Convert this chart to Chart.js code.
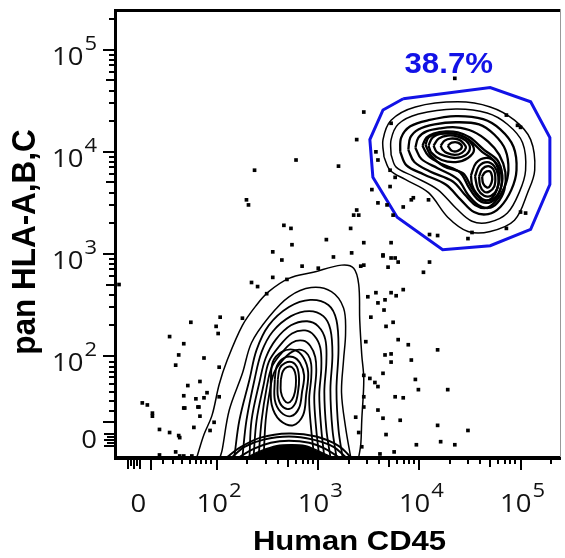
<!DOCTYPE html>
<html>
<head>
  <title>pan HLA-A,B,C vs Human CD45</title>
  <script src="https://cdn.jsdelivr.net/npm/chart.js"></script>
  <style>
    body { margin: 0; background: #fff; }
  </style>
</head>
<body>
  <canvas id="myChart" width="565" height="558"></canvas>

  <script>
    // All values are in display decades of the biexponential axis (2 = 10^2, 3 = 10^3 ...)
    const xLabelValues = [1.22, 2, 3, 4, 5];
    const yLabelValues = [1.25, 2, 3, 4, 5];
    const labelBases = ['0', '10', '10', '10', '10'];
    const labelExponents = ['', '2', '3', '4', '5'];

    const majorTicks = [1.35, 2, 3, 4, 5];
    const xZeroTicks = [1.12, 1.15, 1.18, 1.21, 1.24];
    const yZeroTicks = [1.12, 1.15, 1.18, 1.21, 1.24];
    const lowMinorTicks = [1.46, 1.56, 1.65, 1.73, 1.79, 1.84, 1.89, 1.94];
    const logMinorTicks = [2.30, 2.48, 2.60, 2.78, 2.85, 2.90, 2.95,
                           3.30, 3.48, 3.60, 3.78, 3.85, 3.90, 3.95,
                           4.30, 4.48, 4.60, 4.78, 4.85, 4.90, 4.95, 5.30];
    const midTicks = [2.70, 3.70, 4.70];

    const gatePercent = '38.7%';

    // lower population: contours open at the axis
    const lowerRings = [
      [1.80,1.01, 1.87,1.23, 1.95,1.42, 2.02,1.72, 2.10,1.96, 2.25,2.30, 2.39,2.50, 2.51,2.63, 2.71,2.76, 2.95,2.82, 3.23,2.89, 3.35,2.86, 3.40,2.70, 3.41,2.35, 3.43,2.01, 3.45,1.77, 3.43,1.37, 3.42,1.13, 3.40,1.01],
      [2.03,1.01, 2.05,1.08, 2.12,1.47, 2.25,1.83, 2.34,2.13, 2.51,2.38, 2.71,2.58, 2.93,2.67, 3.13,2.63, 3.25,2.47, 3.27,2.23, 3.25,1.96, 3.23,1.64, 3.27,1.30, 3.32,1.01],
      [2.17,1.01, 2.22,1.37, 2.32,1.77, 2.39,2.06, 2.51,2.30, 2.71,2.48, 2.92,2.55, 3.10,2.50, 3.18,2.35, 3.20,2.06, 3.18,1.67, 3.20,1.28, 3.24,1.01],
      [2.25,1.01, 2.29,1.37, 2.37,1.77, 2.44,2.04, 2.55,2.24, 2.73,2.39, 2.91,2.44, 3.05,2.39, 3.12,2.26, 3.14,2.01, 3.12,1.67, 3.14,1.28, 3.18,1.01],
      [2.32,1.01, 2.34,1.37, 2.42,1.75, 2.48,1.98, 2.58,2.16, 2.73,2.30, 2.89,2.34, 3.00,2.29, 3.07,2.16, 3.08,1.94, 3.06,1.65, 3.08,1.28, 3.12,1.01],
      [2.36,1.01, 2.39,1.37, 2.46,1.72, 2.51,1.94, 2.61,2.09, 2.74,2.22, 2.87,2.25, 2.96,2.20, 3.02,2.08, 3.03,1.88, 3.01,1.62, 3.03,1.28, 3.06,1.01],
      [2.41,1.01, 2.44,1.37, 2.49,1.69, 2.54,1.89, 2.63,2.02, 2.74,2.13, 2.85,2.15, 2.92,2.10, 2.97,1.99, 2.98,1.84, 2.96,1.59, 2.98,1.28, 3.01,1.01],
      [2.46,1.01, 2.48,1.37, 2.52,1.65, 2.56,1.83, 2.64,1.95, 2.74,2.04, 2.83,2.06, 2.90,2.01, 2.93,1.92, 2.93,1.78, 2.91,1.57, 2.93,1.28, 2.96,1.01]
    ];
    const lowerPeakRings = [
      [2.53,1.75, 2.55,1.94, 2.64,2.04, 2.76,2.06, 2.85,1.99, 2.90,1.84, 2.88,1.62, 2.85,1.42, 2.75,1.32, 2.62,1.37, 2.54,1.52],
      [2.57,1.77, 2.59,1.90, 2.66,1.98, 2.75,1.99, 2.82,1.93, 2.86,1.81, 2.84,1.65, 2.81,1.49, 2.73,1.41, 2.63,1.45, 2.57,1.57],
      [2.60,1.77, 2.62,1.88, 2.67,1.93, 2.74,1.94, 2.79,1.89, 2.81,1.78, 2.80,1.65, 2.77,1.53, 2.71,1.48, 2.64,1.51, 2.60,1.61],
      [2.63,1.77, 2.65,1.85, 2.69,1.89, 2.74,1.89, 2.77,1.84, 2.78,1.76, 2.77,1.65, 2.74,1.57, 2.70,1.54, 2.66,1.57, 2.63,1.65]
    ];
    const zeroDomeRings = [
      [2.10,1.01, 2.22,1.10, 2.43,1.20, 2.71,1.24, 2.98,1.21, 3.20,1.12, 3.32,1.01],
      [2.15,1.01, 2.27,1.11, 2.46,1.18, 2.71,1.21, 2.95,1.18, 3.15,1.11, 3.27,1.01],
      [2.22,1.01, 2.36,1.09, 2.53,1.15, 2.71,1.17, 2.91,1.15, 3.07,1.09, 3.20,1.01]
    ];
    // densest part of the dome, drawn filled
    const zeroDomeCore = [2.30,1.01, 2.43,1.07, 2.59,1.12, 2.73,1.13, 2.87,1.12, 3.00,1.07, 3.13,1.01];
    const zeroDomeHoles = [
      [2.60,1.06, 2.66,1.08, 2.72,1.07, 2.66,1.06],
      [2.78,1.05, 2.84,1.07, 2.90,1.05]
    ];
    // upper (gated) population: closed contours
    const upperRings = [
      [3.65,3.95, 3.64,4.12, 3.72,4.31, 3.96,4.44, 4.38,4.49, 4.70,4.44, 4.94,4.31, 5.10,4.12, 5.14,3.82, 5.07,3.60, 4.94,3.33, 4.70,3.22, 4.48,3.22, 4.28,3.36, 4.09,3.60, 3.86,3.73, 3.71,3.82],
      [3.72,3.97, 3.72,4.12, 3.79,4.27, 3.99,4.37, 4.36,4.42, 4.67,4.38, 4.87,4.27, 5.02,4.09, 5.05,3.82, 4.99,3.61, 4.87,3.40, 4.69,3.31, 4.52,3.32, 4.36,3.45, 4.18,3.63, 3.94,3.76, 3.77,3.85],
      [3.81,4.00, 3.82,4.14, 3.91,4.25, 4.09,4.31, 4.36,4.35, 4.63,4.32, 4.80,4.22, 4.93,4.05, 4.96,3.82, 4.91,3.63, 4.80,3.46, 4.68,3.39, 4.54,3.41, 4.41,3.53, 4.26,3.68, 4.04,3.78, 3.87,3.87],
      [3.89,4.02, 3.91,4.14, 3.99,4.22, 4.15,4.27, 4.36,4.29, 4.59,4.27, 4.74,4.17, 4.85,4.02, 4.88,3.82, 4.84,3.65, 4.75,3.51, 4.66,3.45, 4.55,3.48, 4.45,3.58, 4.33,3.71, 4.10,3.81, 3.95,3.90],
      [3.96,4.04, 3.99,4.14, 4.07,4.20, 4.20,4.23, 4.36,4.24, 4.53,4.20, 4.68,4.10, 4.79,3.97, 4.85,3.80, 4.84,3.63, 4.77,3.50, 4.68,3.45, 4.58,3.48, 4.48,3.58, 4.38,3.73, 4.18,3.84, 4.02,3.93],
      [4.03,4.06, 4.07,4.14, 4.14,4.18, 4.26,4.20, 4.38,4.19, 4.50,4.14, 4.64,4.02, 4.77,3.92, 4.82,3.77, 4.80,3.63, 4.74,3.53, 4.66,3.50, 4.57,3.54, 4.49,3.65, 4.40,3.80, 4.22,3.88, 4.09,3.96],
      [4.06,4.07, 4.09,4.14, 4.16,4.17, 4.27,4.18, 4.38,4.17, 4.49,4.12, 4.62,4.00, 4.74,3.91, 4.79,3.77, 4.77,3.64, 4.72,3.55, 4.65,3.52, 4.58,3.56, 4.51,3.66, 4.43,3.79, 4.24,3.86, 4.11,3.97],
      [4.09,4.06, 4.13,4.14, 4.24,4.18, 4.38,4.17, 4.48,4.12, 4.54,4.02, 4.48,3.94, 4.36,3.90, 4.22,3.92, 4.12,3.99],
      [4.14,4.06, 4.19,4.13, 4.28,4.16, 4.38,4.15, 4.46,4.11, 4.50,4.04, 4.46,3.97, 4.36,3.94, 4.25,3.96, 4.17,4.00],
      [4.21,4.06, 4.25,4.11, 4.31,4.13, 4.39,4.12, 4.44,4.08, 4.46,4.04, 4.42,3.99, 4.35,3.97, 4.27,3.99, 4.23,4.02],
      [4.28,4.06, 4.32,4.09, 4.38,4.09, 4.42,4.05, 4.38,4.01, 4.32,4.01],
      [4.51,3.77, 4.56,3.89, 4.66,3.94, 4.75,3.90, 4.81,3.78, 4.80,3.63, 4.73,3.54, 4.64,3.53, 4.56,3.60, 4.52,3.68],
      [4.55,3.76, 4.59,3.86, 4.67,3.90, 4.74,3.86, 4.78,3.76, 4.77,3.64, 4.71,3.57, 4.64,3.57, 4.58,3.63],
      [4.59,3.76, 4.62,3.83, 4.68,3.86, 4.73,3.83, 4.75,3.76, 4.74,3.66, 4.69,3.61, 4.64,3.61, 4.60,3.67],
      [4.62,3.76, 4.65,3.80, 4.69,3.81, 4.71,3.79, 4.72,3.73, 4.70,3.67, 4.67,3.65, 4.63,3.69]
    ];

    const gatePolygon = [3.84,4.52, 4.70,4.63, 5.10,4.49, 5.29,4.14, 5.29,3.68, 5.10,3.24, 4.70,3.08, 4.23,3.04, 3.78,3.36, 3.54,3.75, 3.51,4.12, 3.64,4.41];

    // outlier events drawn as dots
    const events = [
      1.74,2.33, 1.53,2.19, 1.67,2.12, 1.62,2.01, 1.59,1.91, 1.71,1.71, 1.67,1.61, 1.26,1.54, 1.31,1.52, 1.36,1.44,
      1.36,1.41, 1.67,1.49, 1.79,1.58, 1.81,1.50, 1.43,1.28, 1.53,1.25, 1.62,1.22, 1.77,1.30, 1.59,1.06, 1.43,1.03,
      1.63,1.02, 1.67,1.02, 1.75,1.02, 2.55,3.02, 2.64,2.94, 3.15,2.97, 3.33,3.01, 3.45,2.89, 3.64,2.98, 3.72,2.96,
      3.42,2.88, 3.69,2.87, 2.84,2.88, 3.00,2.86, 2.55,2.77, 2.69,2.75, 2.34,2.72, 2.40,2.68, 2.49,2.61, 2.25,2.37,
      2.03,2.38, 1.99,2.29, 2.01,2.22, 1.87,1.98, 2.02,1.89, 1.83,1.75, 1.90,1.64, 2.02,1.60, 1.87,1.59, 1.68,1.49,
      1.82,1.50, 1.83,1.41, 1.97,1.35, 1.93,1.27, 1.63,1.20, 3.49,2.58, 3.57,2.62, 3.59,2.52, 3.66,2.55, 3.72,2.62,
      3.77,2.59, 3.52,2.38, 3.67,2.29, 3.74,2.33, 3.47,2.14, 3.66,2.01, 3.72,2.02, 3.72,1.94, 3.45,1.81, 3.51,1.78,
      3.56,1.74, 3.59,1.70, 3.64,1.83, 3.76,1.60, 3.45,1.60, 3.45,1.50, 3.37,1.40, 3.40,1.25, 3.67,1.23, 3.43,1.11,
      3.61,1.04, 3.75,1.06, 4.21,1.16, 2.66,3.28, 2.73,3.25, 2.31,3.48, 2.29,3.53, 2.74,3.09, 3.08,3.14, 3.35,3.38,
      3.38,3.43, 3.32,3.25, 3.45,3.11, 3.53,3.63, 3.45,4.39, 3.38,4.12, 3.20,3.86, 2.37,3.82, 2.78,3.92, 3.84,2.65,
      3.89,2.11, 3.92,1.96, 4.18,2.06, 3.96,1.77, 3.99,1.67, 3.84,1.59, 3.81,1.37, 4.28,1.67, 4.18,1.32, 4.48,1.27,
      4.35,1.13, 3.97,1.13, 4.04,2.82, 4.10,2.92, 3.79,2.92, 3.59,1.47, 3.64,1.39, 4.35,4.72, 3.72,4.28, 4.86,4.36,
      4.97,4.26, 5.00,4.24, 3.57,4.00, 3.59,3.92, 3.71,3.82, 3.76,3.75, 3.71,3.66, 3.59,3.50, 3.68,3.48, 3.84,3.46,
      3.74,3.38, 3.40,3.38, 3.92,3.53, 4.09,3.53, 5.00,3.41, 4.86,3.25, 4.10,3.19, 4.18,3.18, 4.48,3.15, 4.52,3.21,
      3.72,3.11, 3.64,2.99, 3.76,2.96, 3.94,3.55, 5.05,3.40, 1.03,2.70, 3.65,2.45, 3.79,2.16
    ];

    function toPoints(flat, closed) {
      const pts = [];
      for (let i = 0; i < flat.length; i += 2) {
        pts.push({ x: flat[i], y: flat[i + 1] });
      }
      if (closed) pts.push(pts[0]);
      return pts;
    }

    function contour(flat, closed, width) {
      return {
        type: 'line',
        data: toPoints(flat, closed),
        borderColor: '#000',
        borderWidth: width,
        pointRadius: 0,
        tension: 0.35,
        fill: false
      };
    }

    const datasets = [];
    lowerRings.forEach((r, i) => datasets.push(contour(r, false, i < 2 ? 1.5 : 1.8)));
    lowerPeakRings.forEach(r => datasets.push(contour(r, true, 1.9)));
    zeroDomeRings.forEach(r => datasets.push(contour(r, false, 2)));
    datasets.push(Object.assign(contour(zeroDomeCore, false, 1.5), { fill: 'start', backgroundColor: '#000' }));
    zeroDomeHoles.forEach(r => datasets.push(Object.assign(contour(r, true, 1.5),
      { borderColor: '#fff', fill: true, backgroundColor: '#fff' })));
    upperRings.forEach((r, i) => datasets.push(contour(r, true, i < 2 ? 1.5 : 2.3)));
    datasets.push({
      type: 'scatter',
      data: toPoints(events, false),
      pointStyle: 'rect',
      pointRadius: 2.6,
      backgroundColor: '#000',
      borderWidth: 0
    });
    datasets.push({
      type: 'line',
      data: toPoints(gatePolygon, true),
      borderColor: '#1212e6',
      borderWidth: 3,
      pointRadius: 0,
      tension: 0,
      fill: false
    });

    function stretchedText(ctx, text, x, y, font, align, sx) {
      ctx.save();
      ctx.font = font;
      const w = ctx.measureText(text).width * sx;
      let left = x;
      if (align === 'center') left = x - w / 2;
      if (align === 'right') left = x - w;
      ctx.translate(left, y);
      ctx.scale(sx, 1);
      ctx.textAlign = 'left';
      ctx.fillText(text, 0, 0);
      ctx.restore();
      return w;
    }

    function textWidth(ctx, text, font, sx) {
      ctx.save();
      ctx.font = font;
      const w = ctx.measureText(text).width * sx;
      ctx.restore();
      return w;
    }

    const axisDecor = {
      id: 'axisDecor',
      afterDraw(chart) {
        const { ctx, chartArea: a, scales: { x, y } } = chart;
        ctx.save();

        // frame
        ctx.fillStyle = '#000';
        ctx.fillRect(a.left - 2, a.top - 2, a.right - a.left + 2, 3);
        ctx.fillRect(a.left - 2, a.top - 2, 3, a.bottom - a.top + 5);
        ctx.fillRect(a.left - 2, a.bottom - 1, a.right - a.left + 2, 4);
        ctx.fillStyle = '#999';
        ctx.fillRect(a.right - 1, a.top - 2, 1, a.bottom - a.top + 2);

        // tick marks
        ctx.fillStyle = '#000';
        const xTick = (v, len, w) => {
          const px = x.getPixelForValue(v);
          ctx.fillRect(Math.round(px - w / 2), a.bottom + 2, w, len);
        };
        const yTick = (v, len, w) => {
          const py = y.getPixelForValue(v);
          ctx.fillRect(a.left - 2 - len, Math.round(py - w / 2), len, w);
        };
        majorTicks.forEach(v => { xTick(v, 11, 2); yTick(v, 11, 2); });
        xZeroTicks.forEach((v, i) => xTick(v, i % 2 ? 7 : 10, 2));
        yZeroTicks.forEach((v, i) => yTick(v, i % 2 ? 7 : 10, 2));
        lowMinorTicks.forEach(v => { xTick(v, 5, 2); yTick(v, 5, 2); });
        logMinorTicks.forEach(v => { xTick(v, 5, 2); yTick(v, 5, 2); });
        midTicks.forEach(v => { xTick(v, 8, 2); yTick(v, 8, 2); });

        // tick labels
        const baseFont = '25px "Open Sans"';
        const expFont = '20px "Open Sans"';
        const sx = 1.1;
        ctx.fillStyle = '#111';
        ctx.textBaseline = 'alphabetic';
        xLabelValues.forEach((v, i) => {
          const px = x.getPixelForValue(v);
          const wb = textWidth(ctx, labelBases[i], baseFont, sx);
          const we = labelExponents[i] ? textWidth(ctx, labelExponents[i], expFont, sx) + 1 : 0;
          const left = px - (wb + we) / 2 + (we ? 2 : 0);
          stretchedText(ctx, labelBases[i], left, a.bottom + 55, baseFont, 'left', sx);
          if (we) stretchedText(ctx, labelExponents[i], left + wb + 1, a.bottom + 40, expFont, 'left', sx);
        });
        yLabelValues.forEach((v, i) => {
          const py = y.getPixelForValue(v);
          const right = a.left - 19;
          if (labelExponents[i]) {
            const we = stretchedText(ctx, labelExponents[i], right, py, expFont, 'right', sx);
            stretchedText(ctx, labelBases[i], right - we - 1, py + 15, baseFont, 'right', sx);
          } else {
            stretchedText(ctx, labelBases[i], right, py + 15, baseFont, 'right', sx);
          }
        });

        // axis titles
        ctx.fillStyle = '#000';
        stretchedText(ctx, 'Human CD45', (a.left + a.right) / 2 + 11, 550, 'bold 27px "Liberation Sans"', 'center', 1.15);
        ctx.save();
        ctx.translate(26, (a.top + a.bottom) / 2 + 8);
        ctx.rotate(-Math.PI / 2);
        ctx.scale(1, 1.07);
        ctx.font = 'bold 31.5px "Liberation Sans"';
        ctx.textAlign = 'center';
        ctx.textBaseline = 'middle';
        ctx.fillText('pan HLA-A,B,C', 0, 0);
        ctx.restore();

        // gate frequency
        ctx.fillStyle = '#1212e6';
        stretchedText(ctx, gatePercent, x.getPixelForValue(4.29), y.getPixelForValue(4.88) + 11,
          'bold 30px "Liberation Sans"', 'center', 1.04);

        ctx.restore();
      }
    };

    const ctx = document.getElementById('myChart').getContext('2d');
    new Chart(ctx, {
      type: 'scatter',
      data: { datasets: datasets },
      options: {
        responsive: false,
        animation: false,
        devicePixelRatio: 1,
        layout: { padding: { top: 11, right: 1, left: 0, bottom: 0 } },
        plugins: {
          legend: { display: false },
          tooltip: { enabled: false }
        },
        scales: {
          x: {
            type: 'linear',
            min: 1.0,
            max: 5.4,
            grid: { display: false },
            border: { display: false },
            ticks: { display: false },
            afterFit(scale) { scale.height = 101; }
          },
          y: {
            type: 'linear',
            min: 1.01,
            max: 5.38,
            grid: { display: false },
            border: { display: false },
            ticks: { display: false },
            afterFit(scale) { scale.width = 116; }
          }
        }
      },
      plugins: [axisDecor]
    });
  </script>
</body>
</html>
